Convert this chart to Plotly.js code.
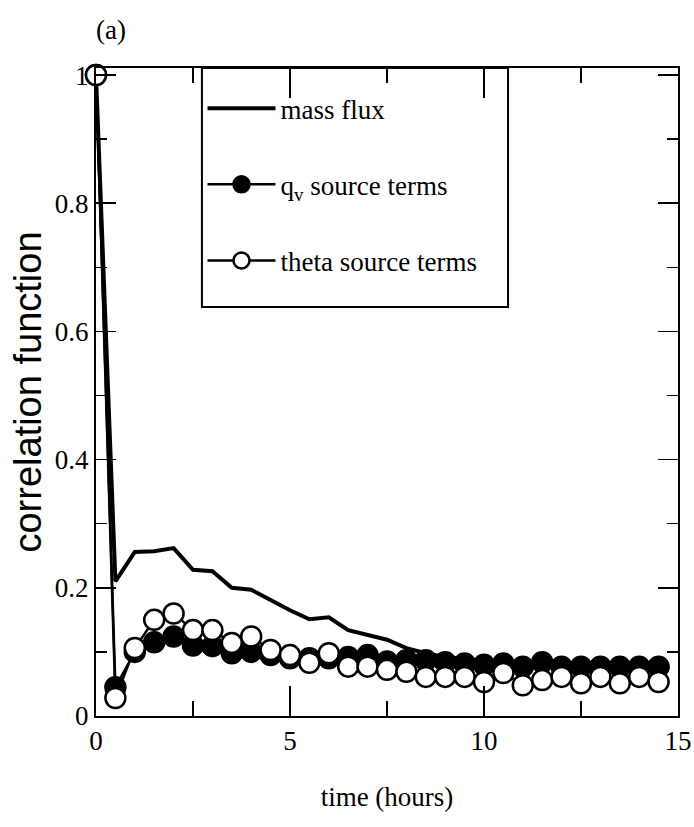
<!DOCTYPE html>
<html>
<head>
<meta charset="utf-8">
<script src="https://cdn.plot.ly/plotly-3.0.1.min.js"></script>
<style>html,body{margin:0;padding:0;background:#fff;}#chart{width:694px;height:827px;}</style>
</head>
<body>
<div id="chart"></div>
<script>
// time in hours (every half hour)
const timeHours = [0,0.5,1,1.5,2,2.5,3,3.5,4,4.5,5,5.5,6,6.5,7,7.5,8,8.5,9,9.5,10,10.5,11,11.5,12,12.5,13,13.5,14,14.5];
const massFlux = [1.0,0.21,0.256,0.257,0.262,0.228,0.226,0.200,0.197,0.181,0.165,0.151,0.154,0.134,0.126,0.119,0.106,0.098,0.092,0.089,0.086,0.083,0.081,0.080,0.079,0.078,0.077,0.076,0.075,0.075];
const qvSource = [1.0,0.045,0.100,0.115,0.124,0.110,0.109,0.098,0.100,0.095,0.090,0.090,0.090,0.092,0.095,0.085,0.087,0.087,0.084,0.082,0.080,0.082,0.077,0.084,0.077,0.077,0.077,0.077,0.077,0.077];
const thetaSource = [1.0,0.028,0.106,0.150,0.160,0.134,0.134,0.114,0.124,0.103,0.095,0.083,0.098,0.077,0.077,0.072,0.069,0.061,0.061,0.061,0.053,0.067,0.048,0.056,0.061,0.051,0.061,0.051,0.061,0.053];
const seriesNames = ["mass flux", "q<sub>v</sub> source terms", "theta source terms"];
const xTitle = "time (hours)";
const yTitle = "correlation function";
const panelLabel = "(a)";

const serif = "'Liberation Serif', 'Times New Roman', Times, serif";
const sans = "'Liberation Sans', Arial, Helvetica, sans-serif";

const traces = [
  {x: timeHours, y: massFlux, name: seriesNames[0], type: "scatter", mode: "lines",
   line: {color: "#000", width: 4}, cliponaxis: false, legendgroup: "a"},
  {x: timeHours, y: qvSource, name: seriesNames[1], type: "scatter", mode: "lines+markers",
   line: {color: "#000", width: 2.5},
   marker: {symbol: "circle", size: 20, color: "#000", line: {color: "#000", width: 2.5}},
   cliponaxis: false, legendgroup: "b"},
  {x: timeHours, y: thetaSource, name: seriesNames[2], type: "scatter", mode: "lines+markers",
   line: {color: "#000", width: 2.5},
   marker: {symbol: "circle", size: 20, color: "#fff", line: {color: "#000", width: 2.5}},
   cliponaxis: false, legendgroup: "c"}
];

const layout = {
  width: 694, height: 827,
  margin: {l: 96, r: 16, t: 68, b: 111},
  paper_bgcolor: "#fff", plot_bgcolor: "#fff",
  font: {family: serif, size: 25, color: "#000"},
  showlegend: true,
  legend: {
    x: 0.183, y: 0.975, xanchor: "left", yanchor: "top",
    bgcolor: "rgba(0,0,0,0)", borderwidth: 0,
    font: {family: serif, size: 27, color: "#000"},
    traceorder: "grouped", tracegroupgap: 38, itemwidth: 68
  },
  shapes: [
    {type: "rect", xref: "paper", yref: "paper", x0: 0.182, x1: 0.708, y0: 0.631, y1: 1.0,
     line: {color: "#000", width: 2}, fillcolor: "rgba(0,0,0,0)", layer: "above"}
  ],
  xaxis: {
    range: [0, 15], tick0: 0, dtick: 5,
    ticks: "inside", ticklen: 30, tickwidth: 1.5, tickcolor: "#000",
    minor: {dtick: 2.5, ticks: "inside", ticklen: 15, tickwidth: 1.5, tickcolor: "#000", showgrid: false},
    showline: true, linewidth: 2, linecolor: "#000", mirror: "ticks",
    showgrid: false, zeroline: false,
    tickfont: {family: serif, size: 27, color: "#000"},
    title: {text: xTitle, font: {family: serif, size: 27, color: "#000"}, standoff: 32},
    automargin: false
  },
  yaxis: {
    range: [0, 1.011], tick0: 0, dtick: 0.2,
    ticks: "inside", ticklen: 20, tickwidth: 1.5, tickcolor: "#000",
    minor: {dtick: 0.1, ticks: "inside", ticklen: 11, tickwidth: 1.5, tickcolor: "#000", showgrid: false},
    showline: true, linewidth: 2, linecolor: "#000", mirror: "ticks",
    showgrid: false, zeroline: false,
    tickfont: {family: serif, size: 27, color: "#000"},
    title: {text: yTitle, font: {family: sans, size: 38, color: "#000"}, standoff: 2},
    automargin: false
  },
  annotations: [
    {text: panelLabel, xref: "paper", yref: "paper", x: 0.026, y: 1.059,
     xanchor: "center", yanchor: "middle", showarrow: false,
     font: {family: serif, size: 27, color: "#000"}}
  ]
};

Plotly.newPlot("chart", traces, layout, {displayModeBar: false, staticPlot: true});
</script>
</body>
</html>
